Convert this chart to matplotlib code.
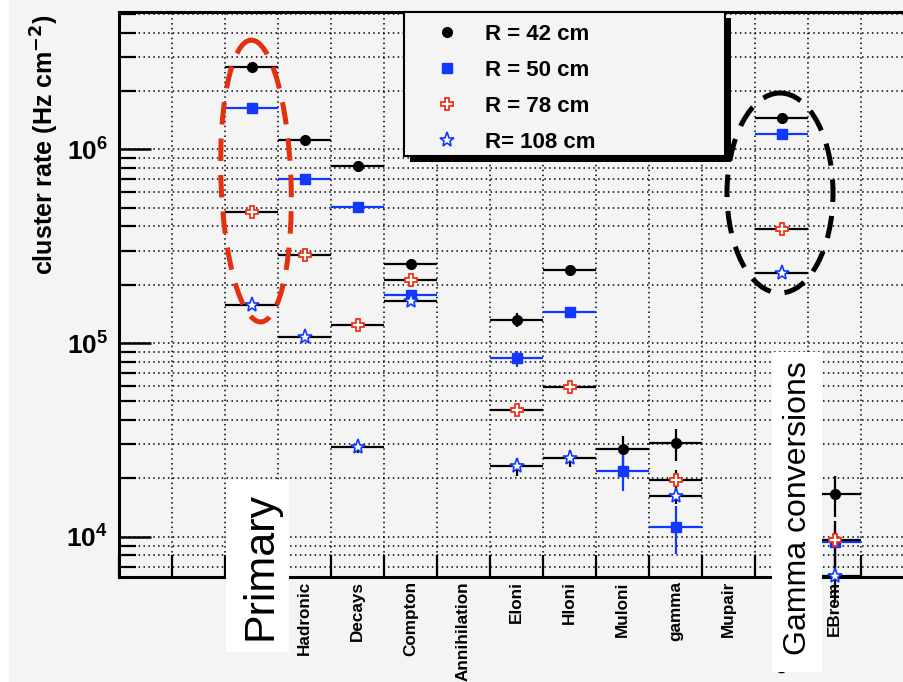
import numpy as np
import matplotlib
matplotlib.use("Agg")
import matplotlib.pyplot as plt
from matplotlib.patches import Ellipse, Rectangle
from matplotlib.lines import Line2D
from matplotlib import transforms
from matplotlib.ticker import LogLocator, NullFormatter, FixedLocator

plt.rcParams["font.family"] = ["Liberation Sans", "DejaVu Sans"]

# ---- data -------------------------------------------------------------
categories = ["", "", "", "Hadronic", "Decays", "Compton", "Annihilation",
              "Eloni", "Hloni", "Muloni", "gamma", "Mupair", "conversion", "EBrem",
              "", ""]

nan = np.nan
rate_r42 = [nan, nan, 2.65e6, 1.12e6, 8.2e5, 2.57e5, nan, 1.32e5, 2.37e5, 2.82e4,
            3.03e4, nan, 1.445e6, 1.667e4, nan, nan]
err_r42 = [nan, nan, 1.5e4, 8e3, 6e3, 4e3, nan, 1.1e4, 1.4e4, 5e3,
           5.6e3, nan, 1.2e4, 4e3, nan, nan]

rate_r50 = [nan, nan, 1.64e6, 7.05e5, 5.06e5, 1.77e5, nan, 8.34e4, 1.44e5, 2.18e4,
            1.126e4, nan, 1.195e6, 9.4e3, nan, nan]
err_r50 = [nan, nan, 1.2e4, 7e3, 5e3, 3e3, nan, 8e3, 1e4, 4.5e3,
           3.1e3, nan, 1e4, 2.6e3, nan, nan]

rate_r78 = [nan, nan, 4.73e5, 2.85e5, 1.24e5, 2.12e5, nan, 4.53e4, 5.96e4, nan,
            1.97e4, nan, 3.87e5, 9.6e3, nan, nan]
err_r78 = [nan, nan, 6e3, 4e3, 2.5e3, 3e3, nan, 2.7e3, 3.5e3, nan,
           2.5e3, nan, 5e3, 2.5e3, nan, nan]

rate_r108 = [nan, nan, 1.57e5, 1.08e5, 2.92e4, 1.64e5, nan, 2.31e4, 2.54e4, nan,
             1.63e4, nan, 2.31e5, 6.25e3, nan, nan]
err_r108 = [nan, nan, 3e3, 2.5e3, 2e3, 2.5e3, nan, 2.5e3, 2.5e3, nan,
            1.5e3, nan, 3.5e3, 1.7e3, nan, nan]

series_labels = ["R = 42 cm", "R = 50 cm", "R = 78 cm", "R= 108 cm"]

# ---- figure -----------------------------------------------------------
W, H = 904, 682
BG = "#f4f4f4"
BLUE = "#1238ff"
RED = "#f0321a"

fig = plt.figure(figsize=(W / 100, H / 100), dpi=100, facecolor=BG)

# pixel coordinates measured from the top-left corner
pix = transforms.Affine2D().scale(1 / W, -1 / H).translate(0, 1) + fig.transFigure

nbins = len(categories)
bin_px = 53.0
x0_px, top_px, bot_px = 119, 12, 577
ax = fig.add_axes([x0_px / W, 1 - bot_px / H, nbins * bin_px / W, (bot_px - top_px) / H])
ax.set_facecolor(BG)

x = np.arange(nbins)
ax.set_xlim(-0.5, nbins - 0.5)
ax.set_yscale("log")
ax.set_ylim(6.19e3, 5.12e6)

series = [
    (rate_r42, err_r42, dict(marker="o", ms=7, mfc="black", mec="black", mew=1.0), "black"),
    (rate_r50, err_r50, dict(marker="s", ms=7, mfc=BLUE, mec=BLUE, mew=1.0), BLUE),
    (rate_r78, err_r78, dict(marker="P", ms=9, mfc="white", mec=RED, mew=1.3), "black"),
    (rate_r108, err_r108, dict(marker="*", ms=11, mfc="white", mec=BLUE, mew=1.2), "black"),
]

handles = []
for (vals, errs, mk, lcol), lab in zip(series, series_labels):
    ax.errorbar(x, vals, yerr=errs, xerr=0.5, fmt="none", ecolor=lcol,
                elinewidth=1.6, capsize=0, zorder=3, clip_on=False)
    ax.plot(x, vals, linestyle="none", zorder=4, clip_on=False, **mk)
    handles.append(Line2D([], [], linestyle="none", label=lab, **mk))

# axis ticks: bin edges on x, decades on y
ax.xaxis.set_major_locator(FixedLocator(np.arange(-0.5, nbins, 1.0)))
ax.xaxis.set_major_formatter(NullFormatter())
ax.xaxis.set_minor_locator(FixedLocator(x))
ax.set_xticklabels(categories, minor=True, rotation=90, fontsize=12.3,
                   fontweight="bold", va="top")
ax.tick_params(axis="x", which="major", direction="in", length=16, width=1.6,
               color="black")
ax.tick_params(axis="x", which="minor", length=0, pad=3)

ax.yaxis.set_major_locator(LogLocator(base=10, numticks=10))
ax.yaxis.set_minor_locator(LogLocator(base=10, subs=np.arange(2, 10), numticks=20))
ax.yaxis.set_minor_formatter(NullFormatter())
ax.tick_params(axis="y", which="major", direction="in", length=23, width=1.8,
               labelsize=19, pad=8)
ax.tick_params(axis="y", which="minor", direction="in", length=12, width=1.6)
for lbl in ax.get_yticklabels():
    lbl.set_fontweight("bold")

ax.grid(True, which="both", axis="y", color="black", linestyle=(0, (1, 2.2)), lw=1.1)
ax.grid(True, which="major", axis="x", color="black", linestyle=(0, (1, 2.2)), lw=1.1)
ax.set_axisbelow(True)

for side in ("left", "bottom", "top"):
    ax.spines[side].set_linewidth(2.2)
ax.spines["right"].set_visible(False)

fig.text(45 / W, 1 - 145 / H, "cluster rate (Hz cm$^{\\mathbf{-2}}$)", rotation=90,
         ha="center", va="center", fontsize=18, fontweight="bold")

# ---- legend box with solid shadow --------------------------------------
lx0, ly0, lx1, ly1 = 404, 12, 725, 156
fig.patches.append(Rectangle((lx0 + 6, ly0 + 6), lx1 - lx0, ly1 - ly0, transform=pix,
                             facecolor="black", edgecolor="none", zorder=6))
fig.patches.append(Rectangle((lx0, ly0), lx1 - lx0, ly1 - ly0, transform=pix,
                             facecolor=BG, edgecolor="black", lw=1.5, zorder=7))
leg = fig.legend(handles=handles, loc="upper left", frameon=False,
                 bbox_to_anchor=(415 / W, 1 - 8 / H),
                 prop=dict(weight="bold", size=16), handlelength=1.5,
                 handletextpad=0.95, labelspacing=0.68, borderpad=0.2)
leg.set_zorder(8)

# ---- hand-drawn highlight ellipses -------------------------------------
fig.patches.append(Ellipse((256, 181), 70, 282, angle=-2, transform=pix, fill=False,
                           edgecolor="#e3300f", lw=3.6, linestyle=(0, (4.5, 2.8)), zorder=9))
fig.patches.append(Ellipse((780, 193), 106, 200, angle=0, transform=pix, fill=False,
                           edgecolor="black", lw=3.6, linestyle=(0, (4.5, 2.8)), zorder=9))

# ---- annotation boxes --------------------------------------------------
fig.patches.append(Rectangle((226, 480), 63, 172, transform=pix, facecolor="white",
                             edgecolor="none", zorder=9))
fig.text(261 / W, 1 - 566 / H, "Primary", rotation=90, ha="center", va="center",
         fontsize=31, zorder=10)
fig.patches.append(Rectangle((772, 352), 50, 320, transform=pix, facecolor="white",
                             edgecolor="none", zorder=9))
fig.text(798 / W, 1 - 508 / H, "Gamma conversions", rotation=90, ha="center",
         va="center", fontsize=23, zorder=10)

# thin white margin at the left edge
fig.patches.append(Rectangle((0, 0), 9, H, transform=pix, facecolor="white",
                             edgecolor="none", zorder=1))

fig.savefig("out.png", dpi=100, facecolor=BG)
